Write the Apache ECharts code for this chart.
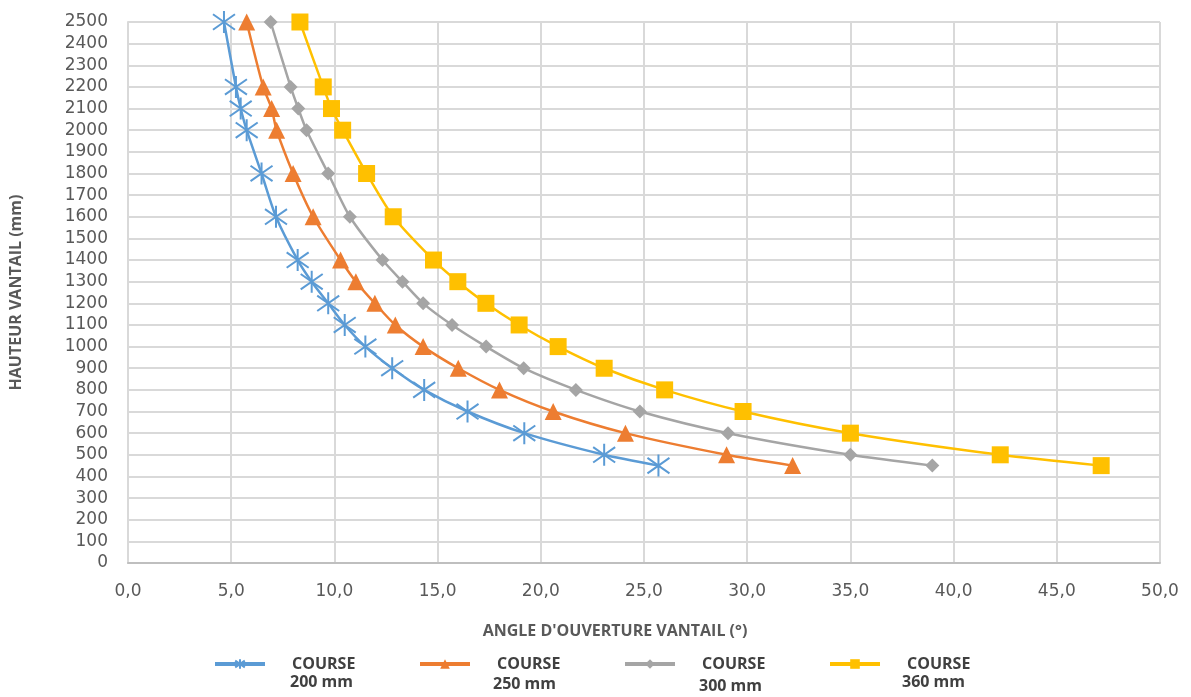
<!DOCTYPE html>
<html>
<head>
<meta charset="utf-8">
<script src="https://cdn.jsdelivr.net/npm/echarts@6/dist/echarts.min.js"></script>
<style>html,body{margin:0;padding:0;background:#fff;}#c{width:1191px;height:697px;}</style>
</head>
<body>
<div id="c"></div>
<script>
const heights = [2500,2200,2100,2000,1800,1600,1400,1300,1200,1100,1000,900,800,700,600,500,450];
const course200 = [4.65,5.23,5.46,5.75,6.47,7.17,8.22,8.9,9.7,10.5,11.5,12.8,14.35,16.45,19.2,23.07,25.7];
const course250 = [5.75,6.55,6.96,7.2,8.0,8.97,10.3,11.04,11.96,12.95,14.3,16.0,18.0,20.6,24.1,29.0,32.2];
const course300 = [6.91,7.88,8.25,8.65,9.7,10.75,12.33,13.3,14.3,15.7,17.35,19.17,21.7,24.8,29.07,35.0,38.97];
const course360 = [8.33,9.46,9.86,10.4,11.56,12.85,14.8,15.98,17.34,18.95,20.84,23.07,26.0,29.8,35.0,42.26,47.15];
const seriesNames = ['COURSE 200 mm','COURSE 250 mm','COURSE 300 mm','COURSE 360 mm'];
const legendSub = ['200 mm','250 mm','300 mm','360 mm'];
const xTitle = "ANGLE D'OUVERTURE VANTAIL (°)";
const yTitle = 'HAUTEUR VANTAIL (mm)';

const colors = ['#5B9BD5','#ED7D31','#A5A5A5','#FFC000'];
const asterisk = 'path://M10,0L10,20M2,3L18,17M2,17L18,3';
const pairs = arr => arr.map((x,i)=>[x, heights[i]]);
const chart = echarts.init(document.getElementById('c'));
const font = 'DejaVu Sans';
const tfont = 'Open Sans';
const seriesDefs = [
  {data: course200, symbol: asterisk, size: 22, extra: {color:'rgba(0,0,0,0)', borderColor: colors[0], borderWidth: 2}},
  {data: course250, symbol: 'triangle', size: 17, extra: {color: colors[1]}},
  {data: course300, symbol: 'diamond', size: 14, extra: {color: colors[2]}},
  {data: course360, symbol: 'rect', size: 17, extra: {color: colors[3]}}
];
const legendLeft = [213, 418, 623, 828];
const subLeft = [290, 493, 699, 902];
const subTop = [674, 676, 678, 674];

chart.setOption({
  animation: false,
  backgroundColor: '#fff',
  color: colors,
  grid: {left: 128, right: 31, top: 22, bottom: 134, containLabel: false},
  xAxis: {
    type: 'value', min: 0, max: 50, interval: 5,
    axisLine: {show: true, lineStyle: {color: '#BFBFBF', width: 2}},
    axisTick: {show: false},
    splitLine: {show: true, lineStyle: {color: '#D9D9D9', width: 2}},
    axisLabel: {color: '#595959', fontFamily: font, fontSize: 17, margin: 20,
      formatter: v => v.toFixed(1).replace('.', ',')},
    name: xTitle, nameLocation: 'middle', nameGap: 60,
    nameTextStyle: {color: '#595959', fontFamily: tfont, fontSize: 16, fontWeight: 'bold', padding: [0, 58, 0, 0]}
  },
  yAxis: {
    type: 'value', min: 0, max: 2500, interval: 100,
    axisLine: {show: true, lineStyle: {color: '#D9D9D9', width: 2}},
    axisTick: {show: false},
    splitLine: {show: true, lineStyle: {color: '#D9D9D9', width: 2}},
    axisLabel: {color: '#595959', fontFamily: font, fontSize: 17, margin: 20,
      formatter: v => String(v)},
    name: yTitle, nameLocation: 'middle', nameGap: 104,
    nameTextStyle: {color: '#595959', fontFamily: tfont, fontSize: 16, fontWeight: 'bold'}
  },
  legend: seriesNames.map((n,i)=>({
    data: [n], left: legendLeft[i], top: 656, orient: 'horizontal', padding: 0,
    itemWidth: 50, itemHeight: 12,
    formatter: () => 'COURSE',
    textStyle: {color: '#404040', fontFamily: tfont, fontSize: 16, fontWeight: 'bold', padding: [0,0,0,22]},
    lineStyle: {width: 4}
  })),
  graphic: legendSub.map((t,i)=>({
    type: 'text', left: subLeft[i], top: subTop[i],
    style: {text: t, fill: '#404040', font: 'bold 16px "Open Sans"'}
  })),
  series: seriesDefs.map((d,i)=>({
    name: seriesNames[i], type: 'line', data: pairs(d.data),
    smooth: 0.25, symbol: d.symbol, symbolSize: d.size,
    lineStyle: {color: colors[i], width: 2.5},
    itemStyle: d.extra,
    z: 2 + i
  }))
});
</script>
</body>
</html>
